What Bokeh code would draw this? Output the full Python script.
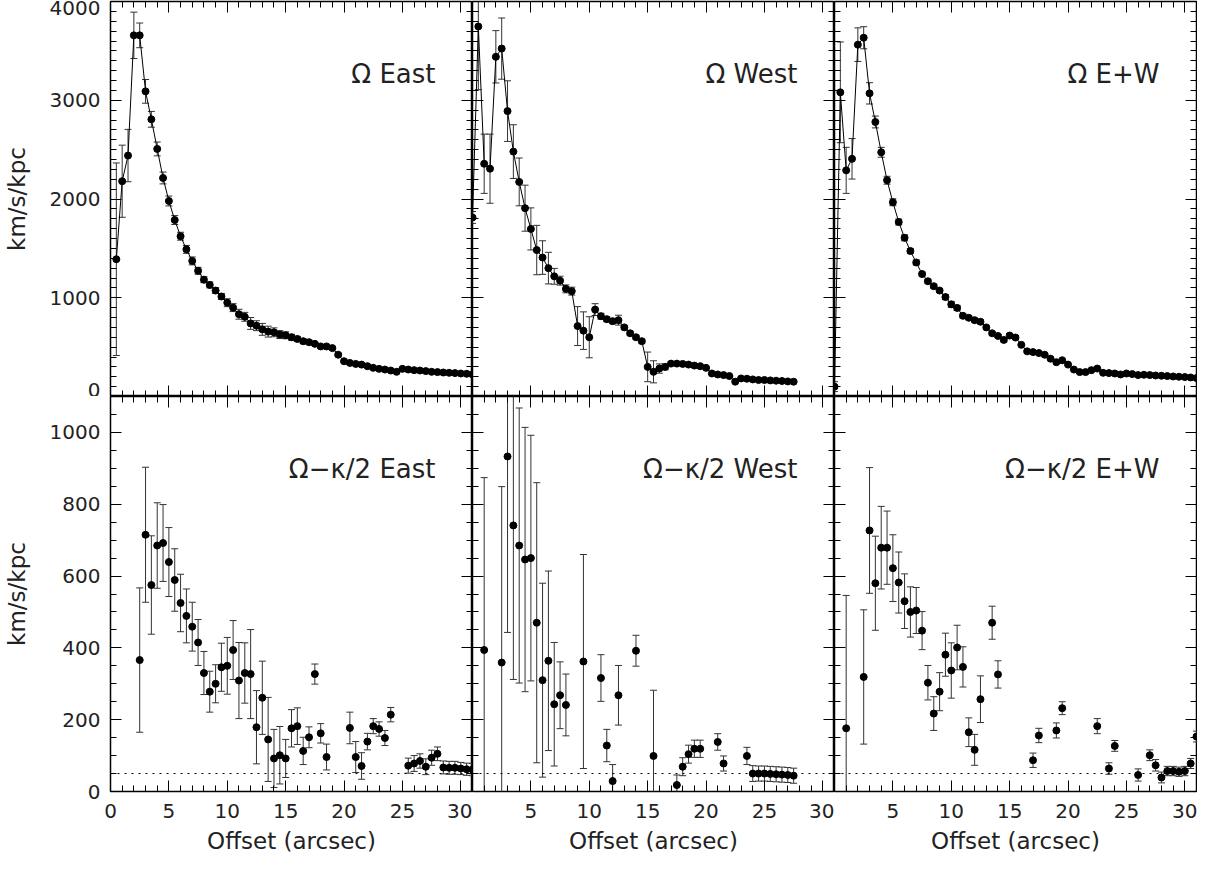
from bokeh.plotting import figure
from bokeh.layouts import column, row
from bokeh.models import (Range1d, LinearAxis, SingleIntervalTicker, FixedTicker, Span,
                          Label, ColumnDataSource)
from bokeh.embed import file_html
from bokeh.resources import INLINE

FONT = "DejaVu Sans"
TXT = "#222222"

# ---------------- data: Omega (top row) ----------------
east_top_x = [0.5, 1.0, 1.5, 2.0, 2.5, 3.0, 3.5, 4.0, 4.5, 5.0, 5.5, 6.0, 6.5, 7.0, 7.5, 8.0,
              8.5, 9.0, 9.5, 10.0, 10.5, 11.0, 11.5, 12.0, 12.5, 13.0, 13.5, 14.0, 14.5, 15.0,
              15.5, 16.0, 16.5, 17.0, 17.5, 18.0, 18.5, 19.0, 19.5, 20.0, 20.5, 21.0, 21.5,
              22.0, 22.5, 23.0, 23.5, 24.0, 24.5, 25.0, 25.5, 26.0, 26.5, 27.0, 27.5, 28.0,
              28.5, 29.0, 29.5, 30.0, 30.5, 31.0]
east_top_y = [1390, 2180, 2440, 3657, 3657, 3090, 2807, 2507, 2213, 1980, 1787, 1623, 1490,
              1373, 1273, 1183, 1130, 1073, 1013, 950, 900, 833, 807, 740, 717, 680, 657, 650,
              627, 620, 600, 583, 560, 550, 533, 507, 507, 490, 423, 357, 340, 330, 323, 307,
              290, 280, 273, 263, 250, 280, 273, 267, 263, 257, 250, 247, 243, 240, 237, 233,
              230, 223]
east_top_err = [975, 365, 265, 235, 125, 120, 80, 70, 60, 50, 45, 40, 40, 40, 35, 30, 30, 30,
                30, 40, 40, 50, 45, 60, 50, 60, 55, 45, 40, 35, 30, 25, 25, 20, 15, 15, 15, 15,
                15, 10, 10, 10, 10, 10, 10, 10, 10, 10, 10, 10, 10, 10, 10, 10, 10, 10, 10, 10,
                10, 10, 10, 10]

west_top_x = [0.0, 0.5, 1.0, 1.5, 2.0, 2.5, 3.0, 3.5, 4.0, 4.5, 5.0, 5.5, 6.0, 6.5, 7.0, 7.5,
              8.0, 8.5, 9.0, 9.5, 10.0, 10.5, 11.0, 11.5, 12.0, 12.5, 13.0, 13.5, 14.0, 14.5,
              15.0, 15.5, 16.0, 16.5, 17.0, 17.5, 18.0, 18.5, 19.0, 19.5, 20.0, 20.5, 21.0,
              21.5, 22.0, 22.5, 23.0, 23.5, 24.0, 24.5, 25.0, 25.5, 26.0, 26.5, 27.0, 27.5]
west_top_y = [1813, 3747, 2357, 2307, 3440, 3523, 2890, 2480, 2173, 1907, 1697, 1483, 1407,
              1300, 1217, 1173, 1090, 1067, 713, 667, 600, 880, 813, 783, 763, 773, 700, 640,
              600, 560, 300, 250, 283, 300, 333, 333, 330, 323, 313, 307, 290, 233, 223, 217,
              207, 150, 183, 180, 173, 167, 167, 163, 160, 157, 153, 150]
west_top_err = [60, 640, 300, 350, 265, 310, 307, 272, 242, 233, 213, 250, 170, 160, 80, 45,
                40, 40, 197, 190, 208, 60, 30, 25, 25, 50, 20, 20, 20, 20, 150, 112, 47, 30,
                15, 15, 10, 10, 10, 10, 10, 10, 10, 10, 10, 10, 10, 10, 10, 10, 10, 10, 10, 10,
                10, 10]

ew_top_x = [0.0, 0.5, 1.0, 1.5, 2.0, 2.5, 3.0, 3.5, 4.0, 4.5, 5.0, 5.5, 6.0, 6.5, 7.0, 7.5,
            8.0, 8.5, 9.0, 9.5, 10.0, 10.5, 11.0, 11.5, 12.0, 12.5, 13.0, 13.5, 14.0, 14.5,
            15.0, 15.5, 16.0, 16.5, 17.0, 17.5, 18.0, 18.5, 19.0, 19.5, 20.0, 20.5, 21.0,
            21.5, 22.0, 22.5, 23.0, 23.5, 24.0, 24.5, 25.0, 25.5, 26.0, 26.5, 27.0, 27.5,
            28.0, 28.5, 29.0, 29.5, 30.0, 30.5, 31.0]
ew_top_y = [100, 3080, 2290, 2407, 3563, 3633, 3070, 2780, 2473, 2190, 1967, 1767, 1607, 1473,
            1357, 1240, 1167, 1117, 1073, 1007, 933, 897, 817, 797, 773, 757, 700, 640, 613,
            573, 617, 597, 523, 457, 450, 440, 423, 383, 347, 367, 323, 273, 247, 247, 267,
            283, 240, 237, 233, 223, 233, 227, 217, 220, 217, 213, 210, 207, 203, 200, 197,
            193, 187]
ew_top_err = [50, 510, 233, 205, 170, 112, 108, 60, 50, 40, 35, 30, 30, 25, 25, 20, 20, 20, 20,
              25, 30, 25, 20, 20, 20, 20, 15, 15, 15, 20, 20, 20, 10, 10, 10, 10, 10, 10, 10,
              10, 10, 10, 10, 10, 10, 10, 10, 10, 10, 10, 10, 10, 10, 10, 10, 10, 10, 10, 10,
              10, 10, 10, 10]

# ---------------- data: Omega - kappa/2 (bottom row) ----------------
east_bot_x = [2.5, 3.0, 3.5, 4.0, 4.5, 5.0, 5.5, 6.0, 6.5, 7.0, 7.5, 8.0, 8.5, 9.0, 9.5, 10.0,
              10.5, 11.0, 11.5, 12.0, 12.5, 13.0, 13.5, 14.0, 14.5, 15.0, 15.5, 16.0, 16.5,
              17.0, 17.5, 18.0, 18.5, 20.5, 21.0, 21.5, 22.0, 22.5, 23.0, 23.5, 24.0, 25.5,
              26.0, 26.5, 27.0, 27.5, 28.0, 28.5, 29.0, 29.5, 30.0, 30.5, 31.0]
east_bot_y = [366, 715, 575, 685, 692, 639, 589, 525, 489, 459, 415, 330, 278, 300, 346, 350,
              394, 309, 330, 327, 179, 261, 145, 92, 101, 92, 176, 182, 113, 151, 327, 162, 96,
              177, 96, 71, 139, 182, 174, 149, 214, 72, 78, 85, 69, 94, 105, 67, 66, 66, 64,
              62, 61]
east_bot_err = [201, 188, 137, 119, 107, 96, 87, 80, 75, 68, 64, 60, 57, 53, 67, 79, 82, 106,
                84, 124, 102, 102, 117, 81, 80, 53, 52, 51, 38, 29, 28, 27, 36, 44, 43, 37, 23,
                21, 20, 21, 20, 21, 22, 20, 22, 21, 19, 18, 18, 18, 17, 17, 17]

west_bot_x = [1.0, 2.5, 3.0, 3.5, 4.0, 4.5, 5.0, 5.5, 6.0, 6.5, 7.0, 7.5, 8.0, 9.5, 11.0, 11.5,
              12.0, 12.5, 14.0, 15.5, 17.5, 18.0, 18.5, 19.0, 19.5, 21.0, 21.5, 23.5, 24.0,
              24.5, 25.0, 25.5, 26.0, 26.5, 27.0, 27.5]
west_bot_y = [394, 359, 933, 741, 685, 646, 650, 470, 310, 364, 243, 268, 241, 362, 316, 128,
              29, 268, 392, 99, 18, 69, 104, 119, 119, 138, 78, 99, 50, 50, 50, 49, 48, 47, 46,
              44]
west_bot_err = [480, 490, 490, 429, 383, 368, 342, 390, 270, 250, 172, 93, 86, 298, 65, 45, 46,
                83, 43, 183, 28, 25, 25, 24, 24, 23, 21, 24, 22, 21, 21, 21, 21, 21, 21, 21]

ew_bot_x = [1.0, 2.5, 3.0, 3.5, 4.0, 4.5, 5.0, 5.5, 6.0, 6.5, 7.0, 7.5, 8.0, 8.5, 9.0, 9.5,
            10.0, 10.5, 11.0, 11.5, 12.0, 12.5, 13.5, 14.0, 17.0, 17.5, 19.0, 19.5, 22.5, 23.5,
            24.0, 26.0, 27.0, 27.5, 28.0, 28.5, 29.0, 29.5, 30.0, 30.5, 31.0]
ew_bot_y = [176, 319, 727, 580, 679, 679, 622, 582, 530, 500, 504, 448, 303, 217, 278, 381, 337,
            401, 347, 165, 116, 257, 470, 326, 87, 156, 170, 232, 182, 64, 127, 46, 101, 73, 39,
            57, 57, 55, 57, 78, 153]
ew_bot_err = [370, 187, 175, 131, 115, 102, 93, 85, 76, 70, 64, 53, 48, 47, 53, 60, 77, 62, 56,
              40, 43, 65, 46, 38, 20, 20, 21, 18, 21, 16, 15, 17, 15, 16, 15, 13, 13, 13, 13, 14,
              15]

ref_level = 50          # dotted reference line in the lower panels
x_limits = (0, 31)
top_limits = (0, 4000)
bot_limits = (0, 1100)

top_titles = ["Ω East", "Ω West", "Ω E+W"]
bot_titles = ["Ω−κ/2 East", "Ω−κ/2 West", "Ω−κ/2 E+W"]
y_label = "km/s/kpc"
x_label = "Offset (arcsec)"

FW, FH = 362, 395
TOP_BORDER = 1


def style_axis(ax, show):
    ax.axis_line_color = None
    ax.major_tick_in = 11
    ax.major_tick_out = 0
    ax.minor_tick_in = 6
    ax.minor_tick_out = 0
    ax.major_tick_line_color = "black"
    ax.minor_tick_line_color = "black"
    ax.major_tick_line_width = 1
    ax.minor_tick_line_width = 1
    if show:
        ax.major_label_text_font = FONT
        ax.major_label_text_font_size = "20px"
        ax.major_label_text_color = TXT
    else:
        ax.major_label_text_color = None
        ax.major_label_standoff = 0


def make_panel(col, top):
    ylim = top_limits if top else bot_limits
    yint, yminor = (1000, 10) if top else (200, 4)
    p = figure(frame_width=FW, frame_height=FH,
               x_range=Range1d(*x_limits), y_range=Range1d(*ylim),
               output_backend="svg", toolbar_location=None,
               x_axis_location=None, y_axis_location=None,
               min_border_left=105 if col == 0 else 0,
               min_border_right=1 if col == 2 else 0,
               min_border_top=TOP_BORDER if top else 0,
               min_border_bottom=0 if top else 69,
               background_fill_color="white", border_fill_color="white")
    p.grid.visible = False
    p.outline_line_color = "black"
    p.outline_line_width = 1.5
    p.outline_line_alpha = 1.0

    for loc in ("left", "right"):
        ax = LinearAxis(ticker=SingleIntervalTicker(interval=yint, num_minor_ticks=yminor))
        show = (loc == "left" and col == 0)
        style_axis(ax, show)
        if show:
            ax.major_label_standoff = 10
            ax.axis_label = y_label
            ax.axis_label_text_font = FONT
            ax.axis_label_text_font_size = "23px"
            ax.axis_label_text_font_style = "normal"
            ax.axis_label_text_color = TXT
            ax.axis_label_standoff = 17
        p.add_layout(ax, loc)

    for loc in ("below", "above"):
        show = (loc == "below" and not top)
        if show and col > 0:
            ticker = FixedTicker(ticks=list(range(5, 31, 5)),
                                 minor_ticks=[m for m in range(1, 31) if m % 5])
        else:
            ticker = SingleIntervalTicker(interval=5, num_minor_ticks=5)
        ax = LinearAxis(ticker=ticker)
        style_axis(ax, show)
        if show:
            ax.major_label_standoff = 12
            ax.axis_label = x_label
            ax.axis_label_text_font = FONT
            ax.axis_label_text_font_size = "23px"
            ax.axis_label_text_font_style = "normal"
            ax.axis_label_text_color = TXT
            ax.axis_label_standoff = 7
        p.add_layout(ax, loc)

    title = (top_titles if top else bot_titles)[col]
    p.add_layout(Label(x=x_limits[1], y=ylim[1], x_offset=-37, y_offset=-72,
                       text=title, text_font=FONT, text_font_size="26px",
                       text_color=TXT, text_align="right", text_baseline="alphabetic"))
    return p


def add_data(p, xs, ys, errs, connect):
    src = ColumnDataSource(dict(
        x=xs, y=ys,
        lo=[v - e for v, e in zip(ys, errs)],
        hi=[v + e for v, e in zip(ys, errs)]))
    p.segment(x0="x", y0="lo", x1="x", y1="hi", source=src, line_color="#333333",
              line_width=1)
    p.scatter("x", "hi", source=src, marker="dash", size=7, line_color="#333333",
              line_width=1)
    p.scatter("x", "lo", source=src, marker="dash", size=7, line_color="#333333",
              line_width=1)
    if connect:
        p.line("x", "y", source=src, line_color="black", line_width=1)
    p.scatter("x", "y", source=src, marker="circle", size=7, fill_color="black",
              line_color="black")


top_data = [(east_top_x, east_top_y, east_top_err),
            (west_top_x, west_top_y, west_top_err),
            (ew_top_x, ew_top_y, ew_top_err)]
bot_data = [(east_bot_x, east_bot_y, east_bot_err),
            (west_bot_x, west_bot_y, west_bot_err),
            (ew_bot_x, ew_bot_y, ew_bot_err)]

top_row, bot_row = [], []
for c in range(3):
    pt = make_panel(c, True)
    add_data(pt, *top_data[c], connect=True)
    top_row.append(pt)

    pb = make_panel(c, False)
    pb.add_layout(Span(location=ref_level, dimension="width", line_color="black",
                       line_width=1, line_dash="2 5"))
    add_data(pb, *bot_data[c], connect=False)
    bot_row.append(pb)

layout = column(row(*top_row, spacing=0), row(*bot_row, spacing=0), spacing=0)

open("out.html", "w").write(file_html(layout, INLINE))
